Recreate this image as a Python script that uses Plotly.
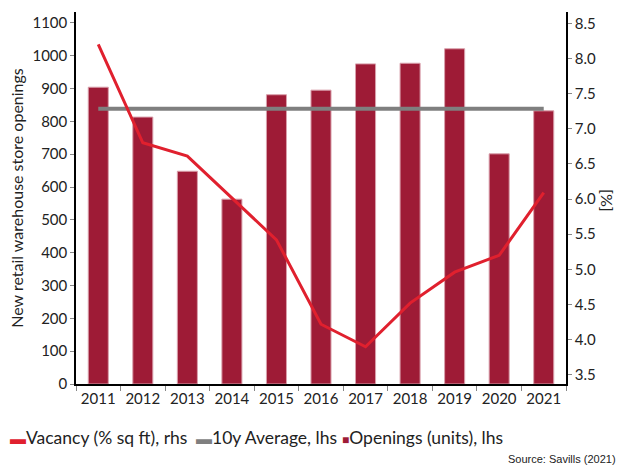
import plotly.graph_objects as go

years = ["2011", "2012", "2013", "2014", "2015", "2016", "2017", "2018", "2019", "2020", "2021"]
openings = [904, 813, 648, 563, 881, 895, 975, 977, 1021, 701, 832]
vacancy = [8.20, 6.80, 6.61, 6.01, 5.42, 4.22, 3.90, 4.52, 4.96, 5.20, 6.09]
avg_10y = [838] * len(years)

legend_labels = ["Vacancy (% sq ft), rhs", "10y Average, lhs", "Openings (units), lhs"]

font_family = "Lato, 'Open Sans', sans-serif"
c_bar, c_bar_edge, c_vac, c_avg = "#9e1b36", "#d9a0ac", "#e0202e", "#7f7f7f"

fig = go.Figure()
fig.add_trace(go.Bar(
    x=years, y=openings, name=legend_labels[2],
    marker=dict(color=c_bar, line=dict(color=c_bar_edge, width=1)),
    width=0.45, yaxis="y",
))
fig.add_trace(go.Scatter(
    x=years, y=avg_10y, name=legend_labels[1], mode="lines",
    line=dict(color=c_avg, width=4), yaxis="y",
))
fig.add_trace(go.Scatter(
    x=years, y=vacancy, name=legend_labels[0], mode="lines",
    line=dict(color=c_vac, width=3), yaxis="y2",
))

L, R, T, B, W, H = 76, 56, 12, 84, 622, 468

def legend_item(symbol, color, label, px, sym_size):
    return dict(
        text=f"<span style='color:{color};font-size:{sym_size}px'>{symbol}</span>{label}",
        x=0, xref="paper", xanchor="left", xshift=px - L,
        y=0, yref="paper", yanchor="middle", yshift=-(437 - (H - B)),
        showarrow=False, font=dict(size=17.5, color="#222"),
    )

annotations = [
    legend_item("▬", c_vac, legend_labels[0], 8, 16),
    legend_item("▬", c_avg, legend_labels[1], 194, 16),
    legend_item("■", c_bar, legend_labels[2], 340, 12),
    dict(
        text="[%]", textangle=90, x=1, xref="paper", xanchor="center", xshift=608 - (W - R),
        y=0, yref="paper", yanchor="middle", yshift=(H - B) - 200, showarrow=False,
        font=dict(size=16, color="#222"),
    ),
    dict(
        text="Source: Savills (2021)", x=1, xref="paper", xanchor="right",
        y=0, yref="paper", yanchor="middle", yshift=-(459 - (H - B)), xshift=618 - (W - R),
        showarrow=False,
        font=dict(family="Liberation Sans, Arial, sans-serif", size=11, color="#222"),
    ),
]

fig.update_layout(
    width=W, height=H,
    margin=dict(l=L, r=R, t=T, b=B, autoexpand=False),
    paper_bgcolor="white", plot_bgcolor="white",
    font=dict(family=font_family, size=15, color="#222"),
    showlegend=False,
    xaxis=dict(
        type="category", range=[-0.5, 10.5], showline=True, linecolor="black", linewidth=1.5,
        ticks="outside", tickson="boundaries", ticklen=5, tickcolor="#888",
        showgrid=False, tickfont=dict(size=15), automargin=False,
    ),
    yaxis=dict(
        range=[0, 1133], tickvals=list(range(0, 1101, 100)), showline=True,
        linecolor="black", linewidth=1.5, ticks="outside", ticklen=4, tickcolor="#888",
        showgrid=False, zeroline=False, automargin=False,
        title=dict(text="New retail warehouse store openings", font=dict(size=16), standoff=5),
    ),
    yaxis2=dict(
        overlaying="y", side="right", range=[3.37, 8.66],
        tickvals=[3.5, 4.0, 4.5, 5.0, 5.5, 6.0, 6.5, 7.0, 7.5, 8.0, 8.5],
        tickformat=".1f", showline=True, linecolor="black", linewidth=1.5,
        ticks="outside", ticklen=4, tickcolor="#888", showgrid=False, zeroline=False,
        automargin=False,
    ),
    annotations=annotations,
)

fig.write_html("out.html", config={"displayModeBar": False},
               post_script="document.body.style.margin='0';")
